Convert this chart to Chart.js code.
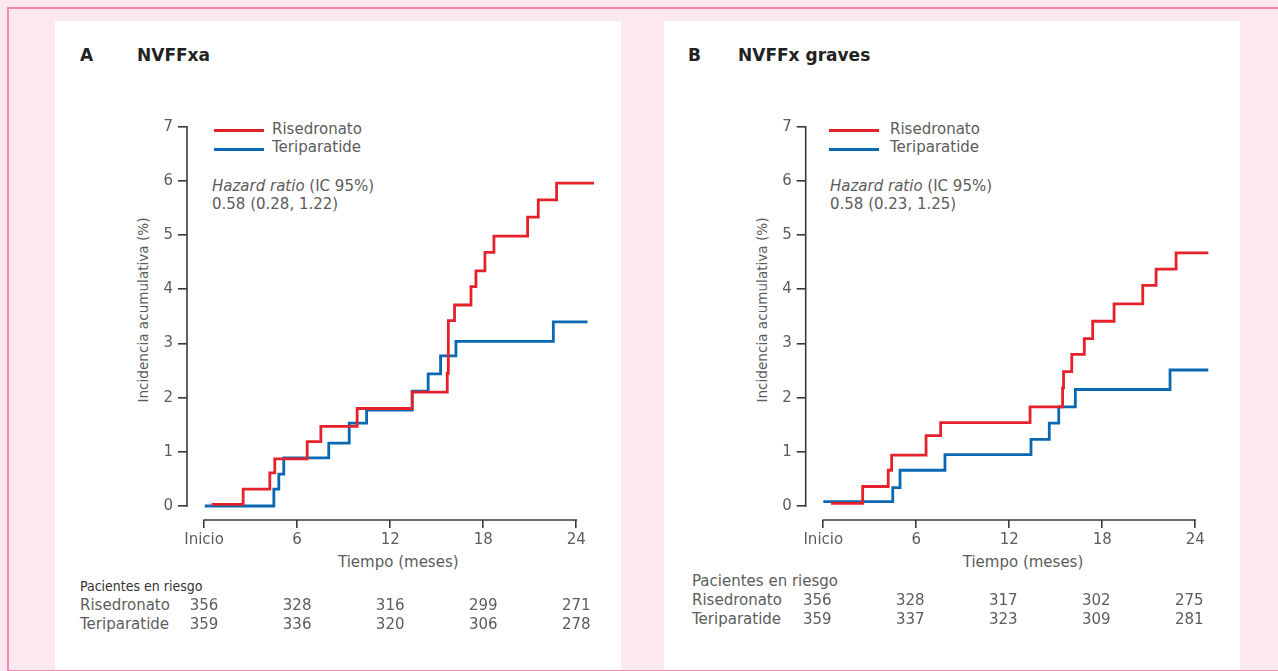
<!DOCTYPE html>
<html lang="es">
<head>
<meta charset="utf-8">
<title>NVFF – incidencia acumulativa</title>
<script src="https://cdn.jsdelivr.net/npm/chart.js@4.4.1/dist/chart.umd.min.js"></script>
<style>
  html, body { margin: 0; padding: 0; }
  body {
    width: 1278px; height: 671px; position: relative; overflow: hidden;
    background: #fce9f0; font-family: "DejaVu Sans", sans-serif; color: #5c5c5c;
  }
  .frame {
    position: absolute; left: 7px; top: 7px; width: 1271px; height: 664px;
    border-top: 2px solid #ee89b4; border-left: 2px solid #ee89b4; border-bottom: 1px solid #ee89b4;
    box-sizing: border-box;
  }
  .card { position: absolute; top: 21px; height: 649px; background: #fff; }
  canvas { position: absolute; top: 21px; }
  .t { position: absolute; white-space: nowrap; font-size: 15px; line-height: 18px; }
  .head { position: absolute; white-space: nowrap; font-size: 17px; line-height: 20px; font-weight: bold; color: #222; }
  .key { position: absolute; width: 50px; height: 3px; }
  .ytitle { position: absolute; white-space: nowrap; font-size: 13.6px; line-height: 16px;
            transform: translate(-50%, -50%) rotate(-90deg); }
  .xtitle { position: absolute; white-space: nowrap; font-size: 15px; line-height: 18px;
            transform: translateX(-50%); }
  .num { position: absolute; white-space: nowrap; font-size: 15px; line-height: 18px; transform: translateX(-50%); }
  .riskhead { font-family: "DejaVu Sans Condensed", "DejaVu Sans", sans-serif; font-size: 14px; color: #333; }
</style>
</head>
<body>
<div class="frame"></div>
<div class="card" style="left:55px;width:566px"></div>
<div class="card" style="left:664px;width:576px"></div>

<!-- Panel A -->
<div class="head" style="left:80px;top:45px">A</div>
<div class="head" style="left:137px;top:45px">NVFFxa</div>
<div class="key" style="left:214px;top:129px;background:#e5222b"></div>
<div class="t" style="left:272px;top:120px">Risedronato</div>
<div class="key" style="left:214px;top:147.5px;background:#0a68b3"></div>
<div class="t" style="left:272px;top:137.5px">Teriparatide</div>
<div class="t" style="left:212px;top:177px"><i>Hazard ratio</i> (IC 95%)</div>
<div class="t" style="left:212px;top:195px">0.58 (0.28, 1.22)</div>
<div class="ytitle" style="left:142.7px;top:309.5px">Incidencia acumulativa (%)</div>
<div class="xtitle" style="left:398.3px;top:553px">Tiempo (meses)</div>
<div class="t riskhead" style="left:80px;top:577px">Pacientes en riesgo</div>
<div class="t" style="left:80px;top:596px">Risedronato</div>
<div class="t" style="left:80px;top:614.5px">Teriparatide</div>
<canvas id="chartA" width="566" height="649" style="left:55px"></canvas>

<!-- Panel B -->
<div class="head" style="left:688px;top:45px">B</div>
<div class="head" style="left:738px;top:45px">NVFFx graves</div>
<div class="key" style="left:829px;top:129px;background:#e5222b"></div>
<div class="t" style="left:890px;top:120px">Risedronato</div>
<div class="key" style="left:829px;top:147.5px;background:#0a68b3"></div>
<div class="t" style="left:890px;top:137.5px">Teriparatide</div>
<div class="t" style="left:830px;top:177px"><i>Hazard ratio</i> (IC 95%)</div>
<div class="t" style="left:830px;top:195px">0.58 (0.23, 1.25)</div>
<div class="ytitle" style="left:761.5px;top:309.5px">Incidencia acumulativa (%)</div>
<div class="xtitle" style="left:1023px;top:553px">Tiempo (meses)</div>
<div class="t" style="left:692px;top:572px">Pacientes en riesgo</div>
<div class="t" style="left:692px;top:591px">Risedronato</div>
<div class="t" style="left:692px;top:610px">Teriparatide</div>
<canvas id="chartB" width="576" height="649" style="left:664px"></canvas>

<script>
// Axis ticks
const monthTicks = [0, 6, 12, 18, 24];
const monthTickLabels = ['Inicio', '6', '12', '18', '24'];
const pctTicks = [0, 1, 2, 3, 4, 5, 6, 7];

// Panel A – NVFFxa: step points (month of event, cumulative incidence %)
const aRisMonths = [0.48, 2.52, 4.24, 4.56, 6.65, 7.53, 9.87, 13.42, 15.68, 15.75, 16.15, 17.21, 17.53, 18.11, 18.69, 20.86, 21.55, 22.73, 25.14];
const aRisPct    = [0.03, 0.31, 0.61, 0.87, 1.19, 1.47, 1.80, 2.10, 2.45, 3.42, 3.71, 4.05, 4.34, 4.68, 4.98, 5.33, 5.65, 5.96, 5.96];
const aTerMonths = [0.05, 4.50, 4.82, 5.14, 8.04, 9.36, 10.48, 13.42, 14.45, 15.25, 16.24, 22.52, 24.73];
const aTerPct    = [0.00, 0.31, 0.59, 0.89, 1.16, 1.53, 1.77, 2.12, 2.44, 2.77, 3.04, 3.40, 3.40];

// Panel B – NVFFx graves
const bRisMonths = [0.50, 2.54, 4.19, 4.41, 6.63, 7.57, 13.34, 15.44, 15.50, 16.03, 16.84, 17.38, 18.76, 20.61, 21.47, 22.76, 24.84];
const bRisPct    = [0.05, 0.36, 0.66, 0.94, 1.30, 1.54, 1.83, 2.18, 2.48, 2.80, 3.09, 3.41, 3.73, 4.07, 4.37, 4.67, 4.67];
const bTerMonths = [0.00, 4.48, 4.95, 7.85, 13.40, 14.58, 15.19, 16.26, 22.37, 24.84];
const bTerPct    = [0.08, 0.34, 0.66, 0.95, 1.23, 1.53, 1.83, 2.15, 2.51, 2.51];

// Patients at risk at each tick month
const aRiskRis = [356, 328, 316, 299, 271];
const aRiskTer = [359, 336, 320, 306, 278];
const bRiskRis = [356, 328, 317, 302, 275];
const bRiskTer = [359, 337, 323, 309, 281];

const RED = '#e5222b';
const BLUE = '#0a68b3';
const AXIS = '#3a3a3a';
const TEXT = '#5c5c5c';

const toPoints = (xs, ys) => xs.map((x, i) => ({ x, y: ys[i] }));

// Axis lines limited to the labelled ranges (0–24 months, 0–7 %)
const axisLines = {
  id: 'axisLines',
  beforeDatasetsDraw(chart) {
    const { ctx, chartArea, scales: { x, y } } = chart;
    ctx.save();
    ctx.strokeStyle = AXIS;
    ctx.lineWidth = 1.6;
    ctx.beginPath();
    ctx.moveTo(chartArea.left, y.getPixelForValue(0) + 0.8);
    ctx.lineTo(chartArea.left, y.getPixelForValue(7) - 0.8);
    ctx.moveTo(x.getPixelForValue(0) - 0.8, chartArea.bottom);
    ctx.lineTo(x.getPixelForValue(24) + 0.8, chartArea.bottom);
    ctx.stroke();
    ctx.restore();
  }
};

function makeChart(id, ris, ter, xMin, padLeft) {
  const tickFont = { family: 'DejaVu Sans', size: 15 };
  return new Chart(document.getElementById(id), {
    type: 'line',
    data: {
      datasets: [
        { label: 'Risedronato', data: ris, borderColor: RED, borderWidth: 2.8, stepped: 'before',
          pointRadius: 0, fill: false, tension: 0 },
        { label: 'Teriparatide', data: ter, borderColor: BLUE, borderWidth: 2.8, stepped: 'before',
          pointRadius: 0, fill: false, tension: 0 }
      ]
    },
    options: {
      responsive: false,
      animation: false,
      events: [],
      layout: { padding: { left: padLeft, top: 105.7, right: 23, bottom: 110 } },
      plugins: { legend: { display: false }, tooltip: { enabled: false } },
      scales: {
        x: {
          type: 'linear', min: xMin, max: 25.4,
          afterBuildTicks: s => { s.ticks = monthTicks.map(v => ({ value: v })); },
          afterFit: s => { s.height = 40; },
          ticks: {
            font: tickFont, color: TEXT, padding: 3, maxRotation: 0, autoSkip: false,
            callback: v => monthTickLabels[monthTicks.indexOf(v)]
          },
          grid: { drawOnChartArea: false, drawTicks: true, tickLength: 8, color: AXIS, lineWidth: 1.6 },
          border: { display: false }
        },
        y: {
          type: 'linear', min: -0.258, max: 7,
          afterBuildTicks: s => { s.ticks = pctTicks.map(v => ({ value: v })); },
          afterFit: s => { s.width = 60; },
          ticks: { font: tickFont, color: TEXT, padding: 5, callback: v => String(v) },
          grid: { drawOnChartArea: false, drawTicks: true, tickLength: 9, color: AXIS, lineWidth: 1.6 },
          border: { display: false }
        }
      }
    },
    plugins: [axisLines]
  });
}

const chartA = makeChart('chartA', toPoints(aRisMonths, aRisPct), toPoints(aTerMonths, aTerPct), -1.1, 72);
const chartB = makeChart('chartB', toPoints(bRisMonths, bRisPct), toPoints(bTerMonths, bTerPct), -1.135, 81.7);

// Risk table numbers placed under the month ticks of each chart's x scale
function riskRow(chart, canvasLeft, shift, values, top) {
  values.forEach((n, i) => {
    const el = document.createElement('div');
    el.className = 'num';
    el.textContent = String(n);
    el.style.left = (canvasLeft + chart.scales.x.getPixelForValue(monthTicks[i]) + shift) + 'px';
    el.style.top = top + 'px';
    document.body.appendChild(el);
  });
}
riskRow(chartA, 55, 0, aRiskRis, 596);
riskRow(chartA, 55, 0, aRiskTer, 614.5);
riskRow(chartB, 664, -6, bRiskRis, 591);
riskRow(chartB, 664, -6, bRiskTer, 610);
</script>
</body>
</html>
